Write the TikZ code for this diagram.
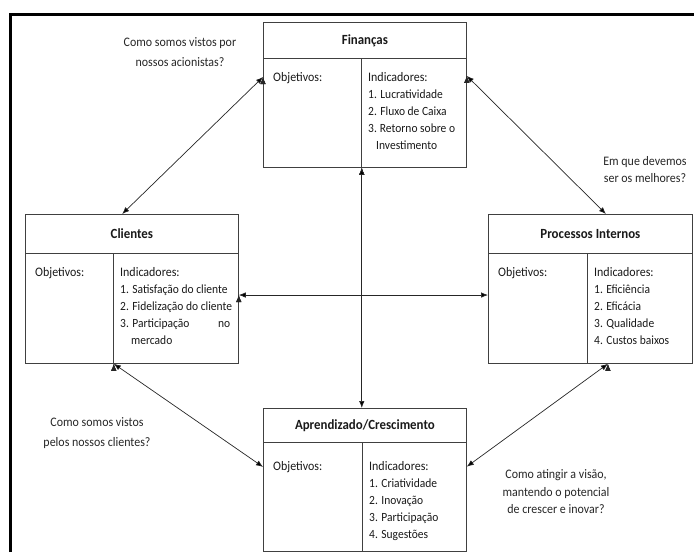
\documentclass[tikz,border=0pt]{standalone}
\usepackage{fontspec}
\setmainfont{Carlito}[FakeStretch=0.92]
\usetikzlibrary{arrows.meta}
\tikzset{head/.style = {draw=black!75, line width=0.8pt, anchor=north west, inner sep=0pt, text=black!90, font=\bfseries\fontsize{14}{15}\selectfont}}
\tikzset{column/.style = {draw=black!75, line width=0.8pt, anchor=north west, inner sep=0pt}}
\tikzset{entry/.style = {anchor=north west, inner sep=0pt, align=left, text=black!90, font=\fontsize{12.5}{17}\selectfont}}
\tikzset{question/.style = {align=center, text=black!85, font=\fontsize{13}{18}\selectfont}}
\tikzset{edge/.style = {<->, > = {Latex[length=7pt,width=5.5pt]}, draw=black!85, line width=0.7pt}}
\newcommand{\lbl}[1]{{\fontsize{13}{17}\selectfont #1}}

\begin{document}
\begin{tikzpicture}[x=1pt, y=-1pt]
  \useasboundingbox (0,0) rectangle (694,552);
  \draw[line width=3pt] (10.5,552) -- (10.5,14.5) -- (694,14.5);

  % Financas
  \node[head, minimum width=203pt, minimum height=36pt] (finT) at (263,22) {Finanças};
  \node[column, minimum width=98pt, minimum height=109pt] (finO) at (263,58) {};
  \node[column, minimum width=105pt, minimum height=109pt] (finI) at (361,58) {};
  \node[entry] (finOt) at ([shift={(10,14)}]finO.north west) {\lbl{Objetivos:}};
  \node[entry] (finIt) at ([shift={(7,14)}]finI.north west) {\lbl{Indicadores:}\\
    1. Lucratividade\\
    2. Fluxo de Caixa\\
    \makebox[87pt][s]{3.\hspace{3pt}Retorno sobre o}\\
    \hspace*{8pt}Investimento};

  % Clientes
  \node[head, minimum width=213pt, minimum height=39pt] (clT) at (25,214) {Clientes};
  \node[column, minimum width=88pt, minimum height=110pt] (clO) at (25,253) {};
  \node[column, minimum width=125pt, minimum height=110pt] (clI) at (113,253) {};
  \node[entry] (clOt) at ([shift={(10,14)}]clO.north west) {\lbl{Objetivos:}};
  \node[entry] (clIt) at ([shift={(7,14)}]clI.north west) {\lbl{Indicadores:}\\
    1. Satisfação do cliente\\
    2. Fidelização do cliente\\
    \makebox[110pt][l]{3. Participação\hfill no}\\
    \hspace*{11pt}mercado};

  % Processos Internos
  \node[head, minimum width=204pt, minimum height=39pt] (prT) at (488,214) {Processos Internos};
  \node[column, minimum width=99pt, minimum height=110pt] (prO) at (488,253) {};
  \node[column, minimum width=105pt, minimum height=110pt] (prI) at (587,253) {};
  \node[entry] (prOt) at ([shift={(10,14)}]prO.north west) {\lbl{Objetivos:}};
  \node[entry] (prIt) at ([shift={(7,14)}]prI.north west) {\lbl{Indicadores:}\\
    1. Eficiência\\
    2. Eficácia\\
    3. Qualidade\\
    4. Custos baixos};

  % Aprendizado/Crescimento
  \node[head, minimum width=203pt, minimum height=34pt] (apT) at (263,408) {Aprendizado/Crescimento};
  \node[column, minimum width=99pt, minimum height=109pt] (apO) at (263,442) {};
  \node[column, minimum width=104pt, minimum height=109pt] (apI) at (362,442) {};
  \node[entry] (apOt) at ([shift={(10,19.5)}]apO.north west) {\lbl{Objetivos:}};
  \node[entry] (apIt) at ([shift={(7,19.5)}]apI.north west) {\lbl{Indicadores:}\\
    1. Criatividade\\
    2. Inovação\\
    3. Participação\\
    4. Sugestões};

  \node[question, font=\fontsize{13}{20.5}\selectfont] (q1) at (180,52) {Como somos vistos por\\nossos acionistas?};
  \node[question, font=\fontsize{13}{17}\selectfont] (q2) at (645,170) {Em que devemos\\ser os melhores?};
  \node[question, font=\fontsize{13}{20}\selectfont] (q3) at (97,433) {Como somos vistos\\pelos nossos clientes?};
  \node[question, font=\fontsize{13}{17.5}\selectfont] (q4) at (556,492) {Como atingir a visão,\\mantendo o potencial\\de crescer e inovar?};

  \path[edge] (finO.144) edge (clT.116);
  \path[edge] (finI.35) edge (prT.52);
  \path[edge] (clO.south east) edge (apO.149);
  \path[edge] (prI.240) edge (apI.30);
  \path[edge] (finO.south east) edge (finO.south east |- apT.north);
  \path[edge] (clI.12) edge (clI.12 -| prO.west);
\end{tikzpicture}
\end{document}
